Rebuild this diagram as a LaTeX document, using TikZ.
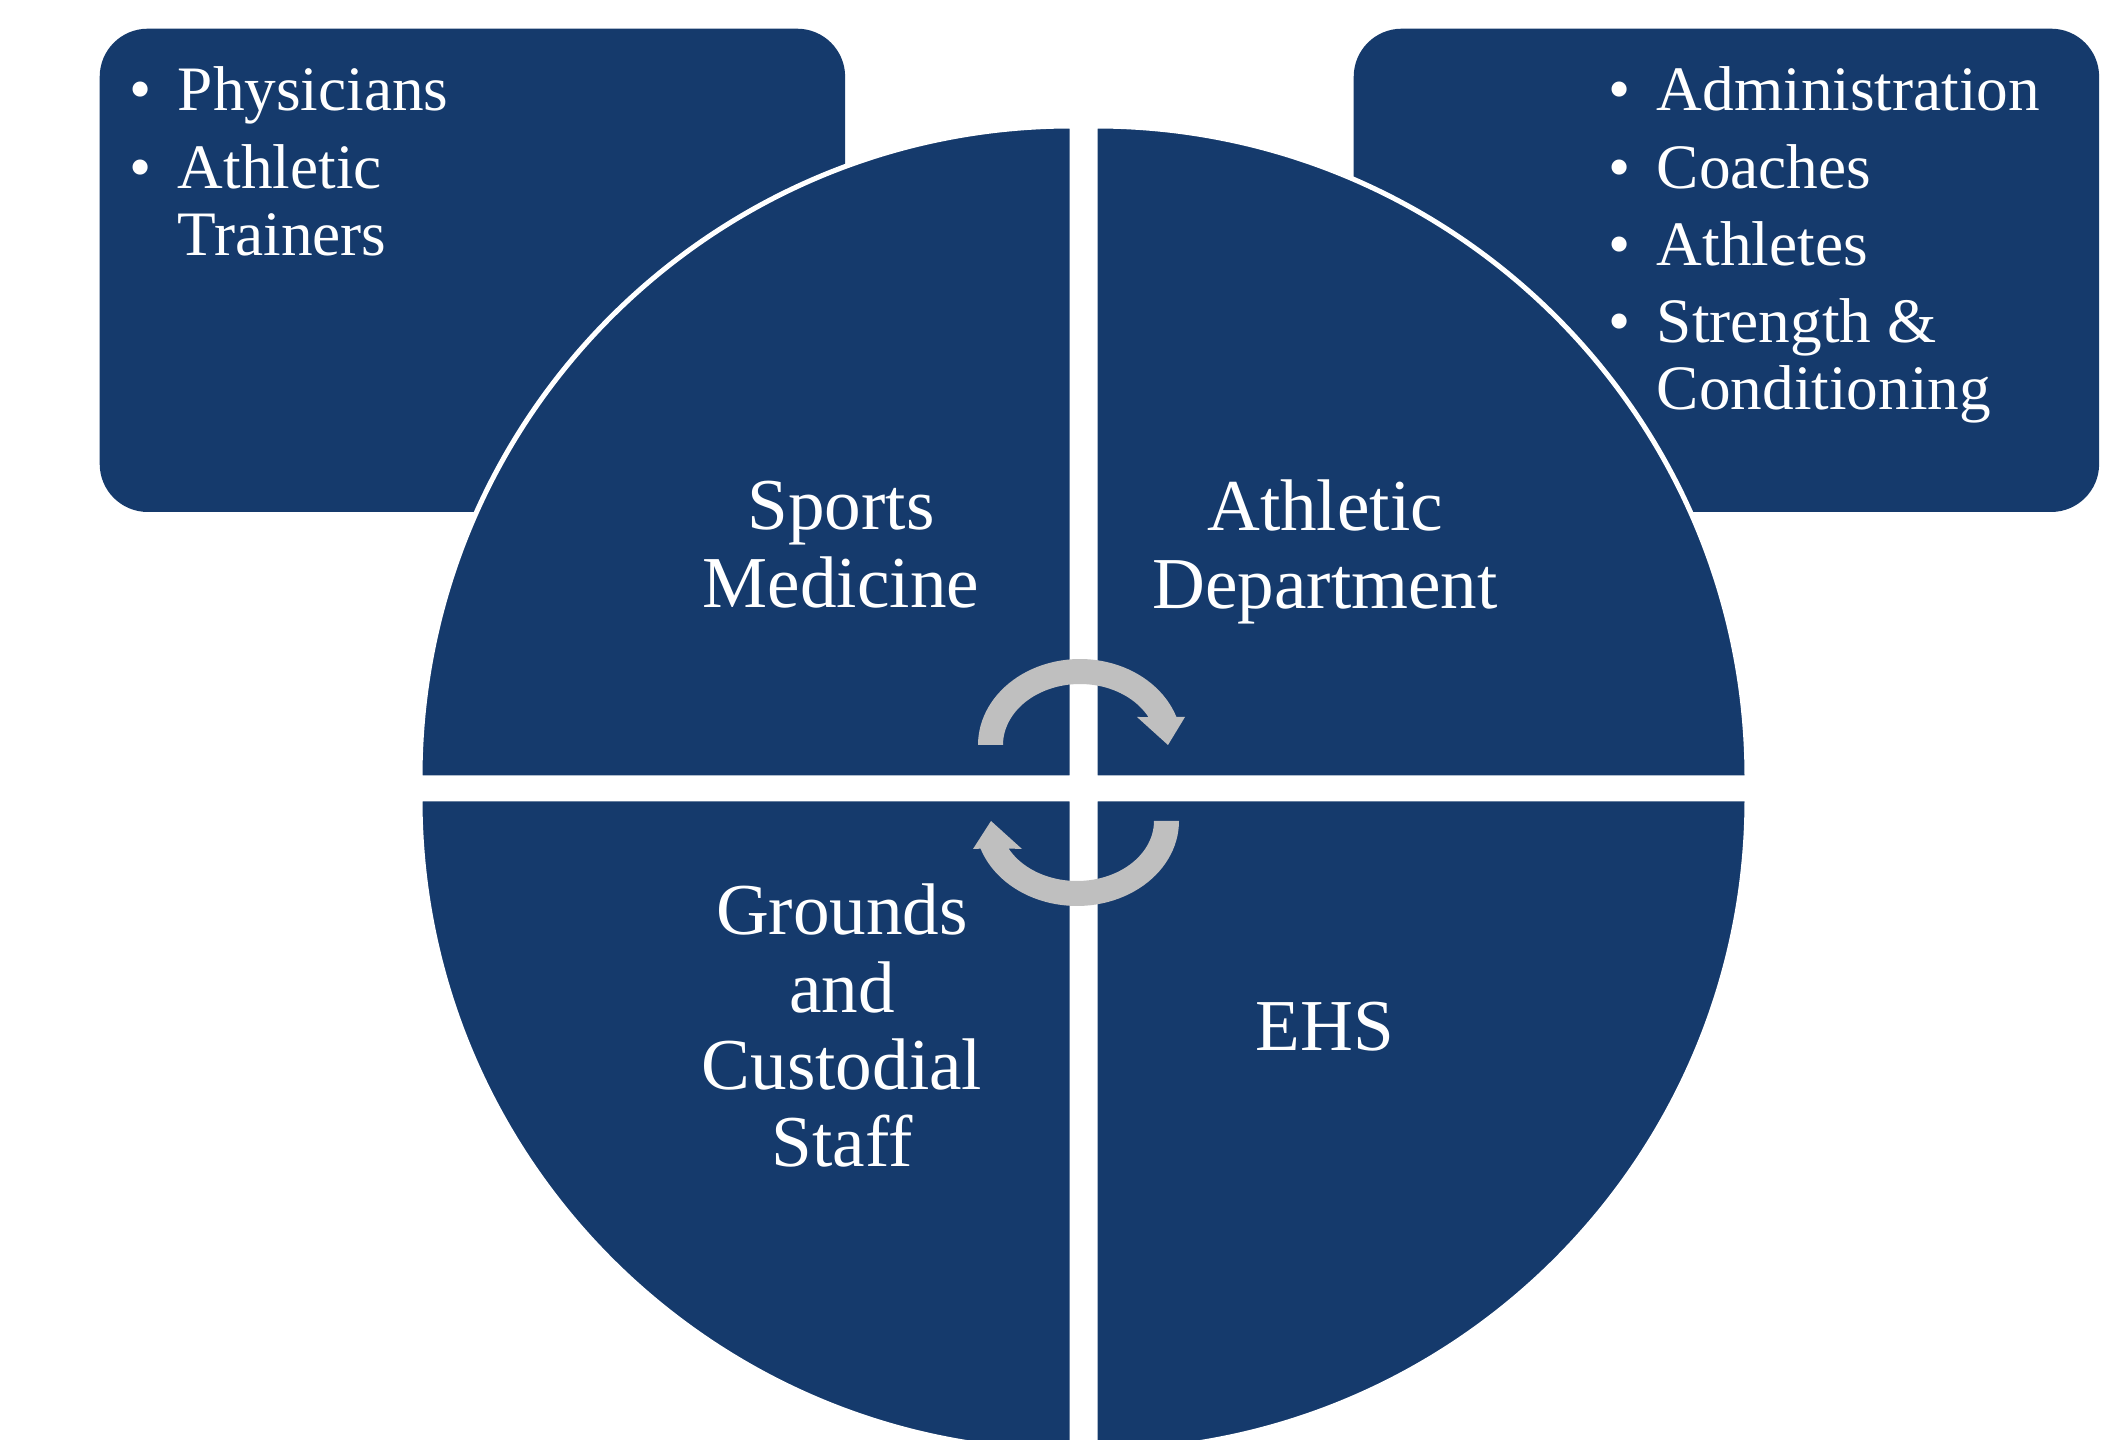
\documentclass[tikz,border=0pt]{standalone}
\usepackage{fontspec}
\setmainfont{Liberation Serif}
\definecolor{panelblue}{RGB}{21,58,108}
\definecolor{loopgray}{RGB}{191,191,191}

\begin{document}
\begin{tikzpicture}[x=0.01cm, y=-0.01cm,
  sidebox/.style={fill=panelblue, rounded corners=0.48cm, inner sep=0pt,
    minimum width=7.45cm, minimum height=4.83cm, anchor=north west},
  quarter/.style={fill=panelblue, draw=white, line width=0.05cm},
  loopfill/.style={fill=loopgray},
  label/.style={text=white, inner sep=0pt, anchor=base,
    font=\fontsize{20.8pt}{0.77cm}\selectfont},
  listtext/.style={text=white, inner sep=0pt, anchor=base west,
    font=\fontsize{18pt}{0.67cm}\selectfont}]

% page
\fill[white] (0,0) rectangle (2120,1440);
\useasboundingbox (0,0) rectangle (2120,1440);
\clip (0,0) rectangle (2120,1440);

% side panels
\node[sidebox] (medbox) at (99,28) {};
\node[sidebox] (athbox) at (1353,28) {};

% four quarter discs
\draw[quarter] (1072,778) -- ++(-652,0) arc[start angle=180, end angle=270, radius=652] -- cycle;
\draw[quarter] (1095,778) -- ++(0,-652) arc[start angle=270, end angle=360, radius=652] -- cycle;
\draw[quarter] (1095,799) -- ++(652,0) arc[start angle=0, end angle=90, radius=652] -- cycle;
\draw[quarter] (1072,799) -- ++(0,652) arc[start angle=90, end angle=180, radius=652] -- cycle;

% circular arrows in the middle
\fill[loopfill]
  plot[domain=180:341, samples=50] ({1080+102*cos(\x)},{745+86*sin(\x)})
  -- (1185,717) -- (1168,745) -- (1137,717)
  -- plot[domain=332.7:180, samples=50] ({1080+77*cos(\x)},{745+61*sin(\x)})
  -- cycle;
\fill[loopfill]
  plot[domain=0:161, samples=50] ({1077+102*cos(\x)},{821+85*sin(\x)})
  -- (973,849) -- (991,821) -- (1022,849)
  -- plot[domain=152.7:0, samples=50] ({1077+77*cos(\x)},{821+60*sin(\x)})
  -- cycle;

% quadrant labels
\node[label] (sports) at (841,530) {\begin{tabular}[t]{@{}c@{}}Sports\\Medicine\end{tabular}};
\node[label] (athdept) at (1325,531) {\begin{tabular}[t]{@{}c@{}}Athletic\\Department\end{tabular}};
\node[label] (grounds) at (842,935) {\begin{tabular}[t]{@{}c@{}}Grounds\\and\\Custodial\\Staff\end{tabular}};
\node[label] (ehs) at (1325,1051) {EHS};

% bullet lists
\node[listtext] (medlist) at (129,111) {\begin{tabular}[t]{@{}l@{\hspace{0.26cm}}l@{}}
  • & Physicians\\[0.1cm]
  • & Athletic\\
    & Trainers
\end{tabular}};
\node[listtext] (athlist) at (1608,111) {\begin{tabular}[t]{@{}l@{\hspace{0.26cm}}l@{}}
  • & Administration\\[0.1cm]
  • & Coaches\\[0.1cm]
  • & Athletes\\[0.1cm]
  • & Strength \&\\
    & Conditioning
\end{tabular}};

\end{tikzpicture}
\end{document}
